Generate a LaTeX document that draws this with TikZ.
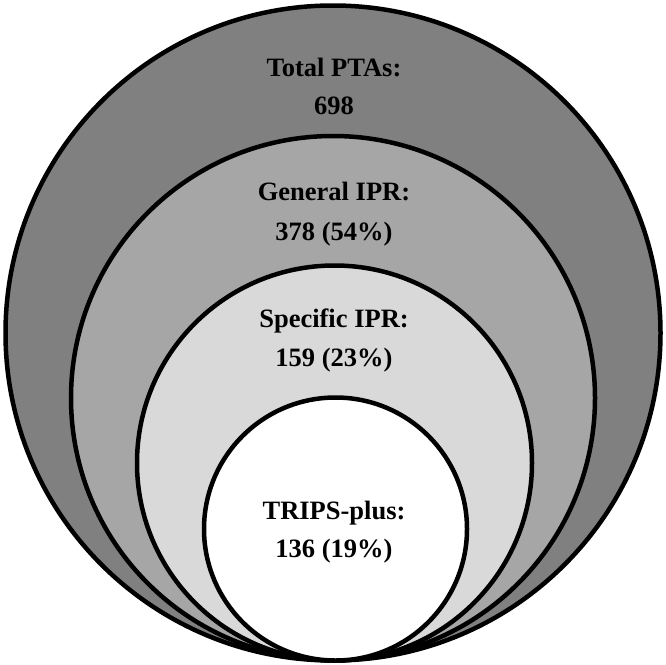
\documentclass[tikz,border=0pt]{standalone}
\usepackage{fontspec}
\setmainfont{Liberation Serif}
\begin{document}
\begin{tikzpicture}[x=1pt,y=-1pt,
  ring/.style={draw=black,line width=4.5pt},
  lbl/.style={font=\bfseries\fontsize{26.5}{30}\selectfont,inner sep=0pt,anchor=base}]
\useasboundingbox (0,0) rectangle (666,664);
% nested sets, all touching at the bottom
\draw[ring,fill={rgb,255:red,128;green,128;blue,128}] (333,333) circle (327.5);
\draw[ring,fill={rgb,255:red,166;green,166;blue,166}] (333,398) circle (262);
\draw[ring,fill={rgb,255:red,217;green,217;blue,217}] (334.5,463) circle (197.5);
\draw[ring,fill=white] (335.5,529) circle (131.5);
% labels
\node[lbl] (total) at (334,76) {Total PTAs:};
\node[lbl] (totaln) at (334,114) {698};
\node[lbl] (gen) at (334,200.5) {General IPR:};
\node[lbl] (genn) at (334,240) {378 (54\%)};
\node[lbl] (spec) at (334,327) {Specific IPR:};
\node[lbl] (specn) at (334,366) {159 (23\%)};
\node[lbl] (trips) at (334,519) {TRIPS-plus:};
\node[lbl] (tripsn) at (334,557) {136 (19\%)};
\end{tikzpicture}
\end{document}
